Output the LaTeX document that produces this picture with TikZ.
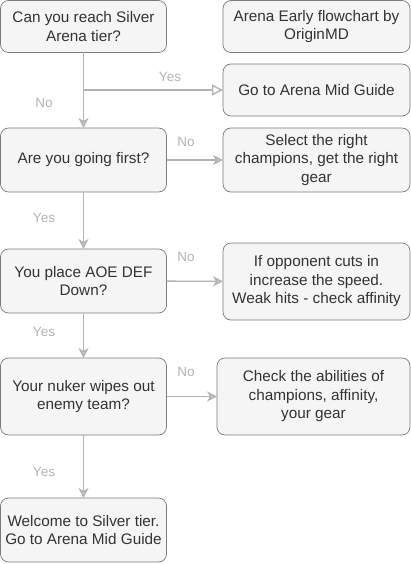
\documentclass[tikz,border=0pt]{standalone}
\usepackage{fontspec}
\setmainfont{Liberation Sans}
\usetikzlibrary{arrows.meta}
\definecolor{boxfill}{HTML}{F5F5F5}
\definecolor{boxline}{HTML}{7A7A7A}
\definecolor{boxtext}{HTML}{333333}
\definecolor{flowgray}{HTML}{B3B3B3}

\begin{document}
\begin{tikzpicture}[x=1pt,y=1pt,line width=1.4pt,
  box/.style={draw=boxline,fill=boxfill,text=boxtext,rounded corners=8pt,line width=0.7pt,
    align=center,inner sep=0pt,outer sep=0pt,font=\fontsize{15.3}{18.5}\selectfont},
  lbl/.style={text=flowgray,font=\fontsize{13.5}{15}\selectfont},
  flow/.style={draw=flowgray,-{Stealth[length=10pt,width=10pt,inset=3pt,fill=flowgray!60]}}]
  \useasboundingbox (0,0) rectangle (411,-564);
  \node[box,minimum width=166pt,minimum height=52pt] (reach) at (83.5,-26.5) {Can you reach Silver\\Arena tier?};
  \node[box,minimum width=187pt,minimum height=52pt] (title) at (316.5,-26.5) {Arena Early flowchart by\\OriginMD};
  \node[box,minimum width=187pt,minimum height=52pt] (mid) at (316.5,-90) {Go to Arena Mid Guide};
  \node[box,minimum width=166pt,minimum height=64pt] (first) at (83.5,-160) {Are you going first?};
  \node[box,minimum width=187pt,minimum height=64pt] (select) at (316.5,-160) {Select the right\\champions, get the right\\gear};
  \node[box,minimum width=166pt,minimum height=64pt] (aoe) at (83.5,-281) {You place AOE DEF\\Down?};
  \node[box,minimum width=187pt,minimum height=77pt] (speed) at (316.5,-281.5) {If opponent cuts in\\increase the speed.\\Weak hits - check affinity};
  \node[box,minimum width=166pt,minimum height=77pt] (nuker) at (83.5,-396.5) {Your nuker wipes out\\enemy team?};
  \node[box,minimum width=193pt,minimum height=77pt] (check) at (313.5,-396.5) {Check the abilities of\\champions, affinity,\\your gear};
  \node[box,minimum width=166pt,minimum height=64pt] (silver) at (83.5,-530) {Welcome to Silver tier.\\Go to Arena Mid Guide};

  \draw[flow] (reach) -- (first);
  \draw[draw=flowgray,-{Triangle[open,length=11pt,width=11pt]}] (reach.south |- mid.west) -- (mid);
  \draw[flow] (first) -- (select);
  \draw[flow] (first) -- (aoe);
  \draw[flow] (aoe) -- (speed);
  \draw[flow] (aoe) -- (nuker);
  \draw[flow] (nuker) -- (check);
  \draw[flow] (nuker) -- (silver);

  \node[lbl] (l1) at (170,-77) {Yes};
  \node[lbl] (l2) at (44,-103) {No};
  \node[lbl] (l3) at (186,-142) {No};
  \node[lbl] (l4) at (44,-218) {Yes};
  \node[lbl] (l5) at (186,-257) {No};
  \node[lbl] (l6) at (44,-332) {Yes};
  \node[lbl] (l7) at (186,-372) {No};
  \node[lbl] (l8) at (44,-472) {Yes};
\end{tikzpicture}
\end{document}
